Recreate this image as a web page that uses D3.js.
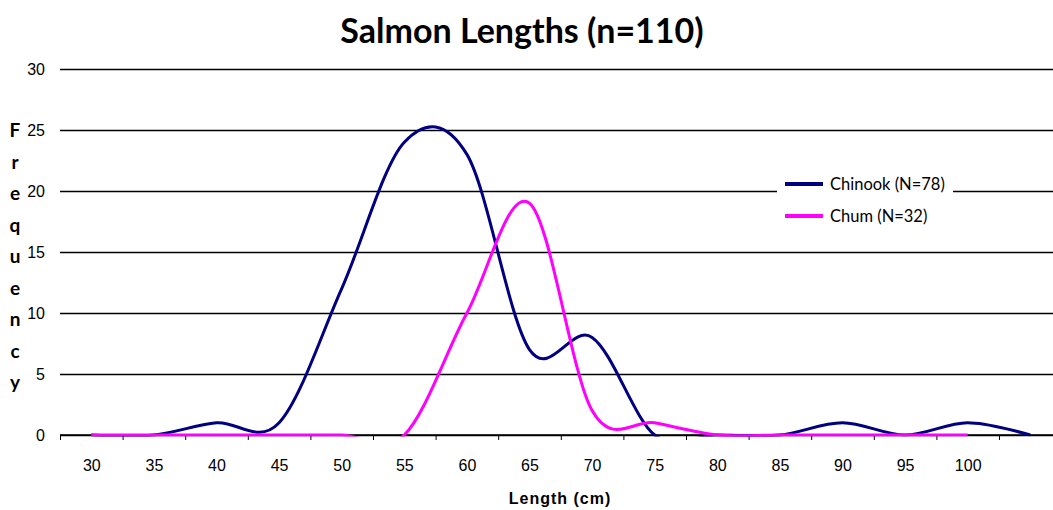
<!DOCTYPE html>
<html>
<head>
<meta charset="utf-8">
<script src="https://cdn.jsdelivr.net/npm/d3@7"></script>
<style>
    body { margin: 0; background: #fff; }
    svg { display: block; }
    .tick text { font-family: 'Liberation Sans', Arial, sans-serif; font-size: 16px; fill: #000; }
</style>
</head>
<body>
<svg id="Chart" width="1053" height="510"></svg>
<script>
// lengths are 5 cm bins, chum has no value for the last bin
var lengths = [30, 35, 40, 45, 50, 55, 60, 65, 70, 75, 80, 85, 90, 95, 100, 105];
var chinook = [0, 0, 1, 1, 12, 24, 23, 7, 8, 0, 0, 0, 1, 0, 1, 0];
var chum = [0, 0, 0, 0, 0, 0, 10, 19, 2, 1, 0, 0, 0, 0, 0, null];
var yTicks = [0, 5, 10, 15, 20, 25, 30];
var xLabels = [30, 35, 40, 45, 50, 55, 60, 65, 70, 75, 80, 85, 90, 95, 100];
var series = [
    { name: 'Chinook (N=78)', values: chinook, color: '#000080' },
    { name: 'Chum (N=32)', values: chum, color: '#ff00ff' }
];

var svg = d3.select('#Chart');
var width = 1053;
var plotLeft = 60;
var plotRight = 1061.6;
var plotTop = 69;
var plotBottom = 435;

var xScale = d3.scaleLinear().domain([27.5, 107.5]).range([plotLeft, plotRight]);
var yScale = d3.scaleLinear().domain([0, 30]).range([plotBottom, plotTop]);

svg.append('text')
    .attr('x', 522)
    .attr('y', 43)
    .attr('text-anchor', 'middle')
    .style('font-family', 'Lato, "Open Sans", sans-serif')
    .style('font-weight', 'bold')
    .style('font-size', '34px')
    .text('Salmon Lengths (n=110)');

//グリッド線
svg.append('g')
    .attr('transform', 'translate(' + plotLeft + ', 0)')
    .call(d3.axisLeft(yScale).tickValues(yTicks).tickSize(-(width - plotLeft)).tickPadding(15))
    .call(function (g) {
        g.select('.domain').remove();
        g.selectAll('.tick line').attr('stroke', '#000').attr('stroke-width', 1.3);
        g.selectAll('.tick text').attr('x', -15);
    });

//目盛りはカテゴリの境界、ラベルはカテゴリの中央
var boundaries = d3.range(lengths.length + 1).map(function (i) {
    return 27.5 + i * 5;
});
svg.append('g')
    .attr('transform', 'translate(0, ' + plotBottom + ')')
    .call(d3.axisBottom(xScale).tickValues(boundaries).tickSize(5).tickFormat(''))
    .call(function (g) {
        g.select('.domain').attr('stroke', '#000').attr('stroke-width', 1.3).attr('d', 'M' + plotLeft + ',0H' + width);
        g.selectAll('.tick line').attr('stroke', '#000');
    });
svg.append('g')
    .attr('transform', 'translate(0, ' + plotBottom + ')')
    .call(d3.axisBottom(xScale).tickValues(xLabels).tickSize(0).tickPadding(25))
    .call(function (g) {
        g.select('.domain').remove();
    });

svg.append('text')
    .attr('x', 560)
    .attr('y', 504)
    .attr('text-anchor', 'middle')
    .style('font-family', '"Liberation Sans", Arial, sans-serif')
    .style('font-weight', 'bold')
    .style('font-size', '16px')
    .style('letter-spacing', '1px')
    .text('Length (cm)');

var yTitle = svg.append('g');
'Frequency'.split('').forEach(function (c, i) {
    yTitle.append('text')
        .attr('x', 15)
        .attr('y', 137 + i * 31.5)
        .attr('text-anchor', 'middle')
        .style('font-family', 'Lato, "Open Sans", sans-serif')
        .style('font-weight', 'bold')
        .style('font-size', '19px')
        .text(c);
});

svg.append('clipPath')
    .attr('id', 'plotClip')
    .append('rect')
    .attr('x', plotLeft)
    .attr('y', plotTop - 5)
    .attr('width', width - plotLeft)
    .attr('height', plotBottom - plotTop + 6.5);

var line = d3
    .line()
    .defined(function (d) {
        return d !== null;
    })
    .x(function (d, i) {
        return xScale(lengths[i]);
    })
    .y(function (d) {
        return yScale(d);
    })
    .curve(d3.curveCardinal.tension(0));

var plot = svg.append('g').attr('clip-path', 'url(#plotClip)');
series.forEach(function (s) {
    plot.append('path')
        .attr('d', line(s.values))
        .attr('fill', 'none')
        .attr('stroke', s.color)
        .attr('stroke-width', 3)
        .attr('stroke-linejoin', 'round');
});

var legend = svg.append('g').attr('transform', 'translate(777, 168)');
legend.append('rect').attr('width', 176).attr('height', 68).attr('fill', '#fff');
series.forEach(function (s, i) {
    legend.append('line')
        .attr('x1', 8)
        .attr('x2', 46)
        .attr('y1', 16 + i * 32)
        .attr('y2', 16 + i * 32)
        .attr('stroke', s.color)
        .attr('stroke-width', 4);
    legend.append('text')
        .attr('x', 53)
        .attr('y', 16 + i * 32)
        .attr('dominant-baseline', 'central')
        .style('font-family', 'Lato, "Open Sans", sans-serif')
        .style('font-size', '16.5px')
        .text(s.name);
});
</script>
</body>
</html>
